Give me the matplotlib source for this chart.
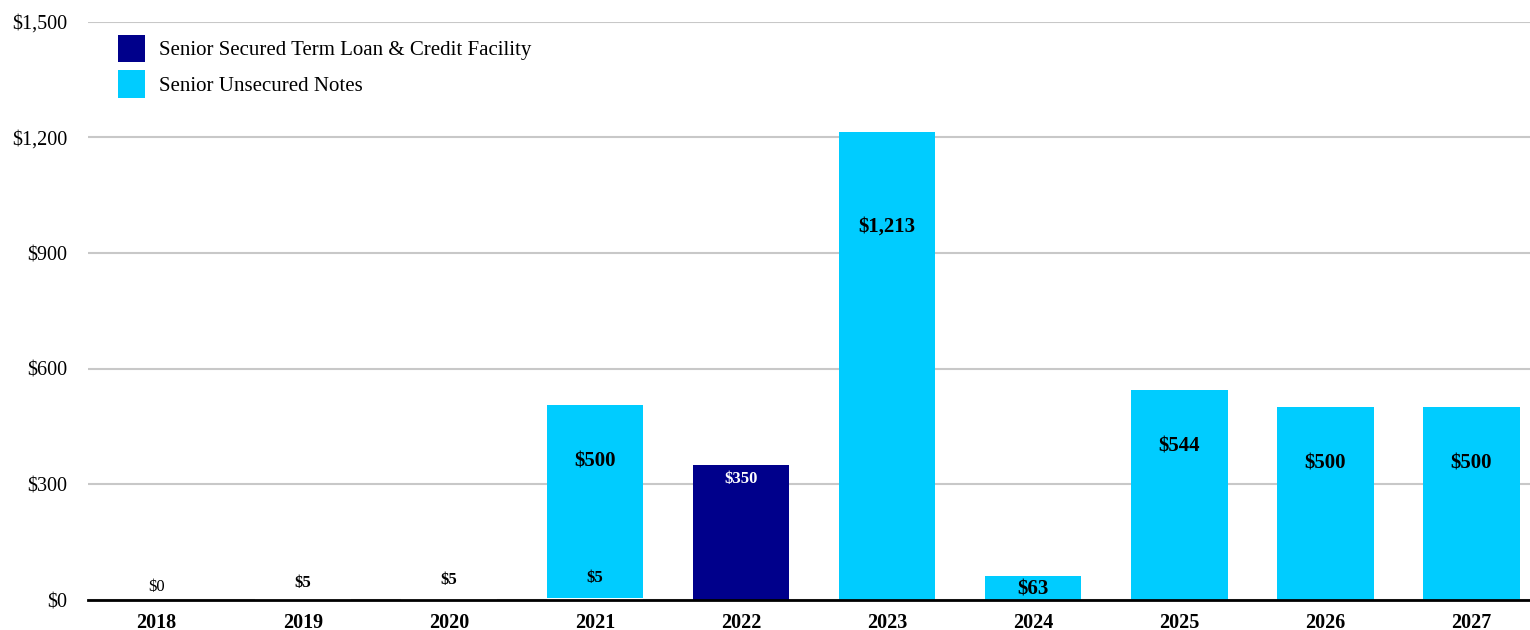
import matplotlib
matplotlib.use("Agg")
import matplotlib.pyplot as plt
import numpy as np

years = ["2018", "2019", "2020", "2021", "2022", "2023", "2024", "2025", "2026", "2027"]
secured = [0, 5, 5, 5, 350, 0, 0, 0, 0, 0]
unsecured = [0, 0, 0, 500, 0, 1213, 63, 544, 500, 500]

navy = "#00008B"
cyan = "#00CCFF"

plt.rcParams["font.family"] = ["Liberation Serif", "DejaVu Serif"]

fig = plt.figure(figsize=(15.3, 6.3), dpi=100)
ax = fig.add_axes([0.0575, 0.0476, 0.9425, 0.918])

x = np.arange(len(years))
w = 0.66
# tiny secured amounts are not visible in the original
sec_colors = [navy if v >= 50 else "white" for v in secured]
ax.bar(x, secured, w, color=sec_colors, zorder=2)
ax.bar(x, unsecured, w, bottom=secured, color=cyan, label="Senior Unsecured Notes", zorder=2)
ax.bar([0], [0], w, color=navy, label="Senior Secured Term Loan & Credit Facility")

ax.set_ylim(0, 1500)
ax.set_xlim(-0.47, 9.4)
ax.set_yticks(np.arange(0, 1501, 300))
ax.set_yticklabels(["${:,}".format(v) for v in range(0, 1501, 300)], fontsize=14.5)
ax.set_xticks(x)
ax.set_xticklabels(years, fontsize=14.5, fontweight="bold")
ax.tick_params(axis="x", length=0, pad=9)
ax.tick_params(axis="y", length=0, pad=15)
ax.yaxis.grid(True, color="#c8c8c8", linewidth=1.5, zorder=0)
for s in ["top", "right", "left"]:
    ax.spines[s].set_visible(False)
ax.spines["bottom"].set_linewidth(2)
ax.spines["bottom"].set_zorder(3)

# labels
for i in range(len(years)):
    if unsecured[i] > 0:
        top = secured[i] + unsecured[i]
        drop = 94 if unsecured[i] > 1000 else (14 if unsecured[i] < 100 else 56)
        ax.annotate("${:,}".format(unsecured[i]), (x[i], top), xytext=(0, -drop),
                    textcoords="offset pixels", ha="center", va="center",
                    fontsize=15, fontweight="bold", color="black", zorder=4)
    if secured[i] >= 100:
        ax.annotate("${:,}".format(secured[i]), (x[i], secured[i]), xytext=(0, -14),
                    textcoords="offset pixels", ha="center", va="center",
                    fontsize=12, fontweight="bold", color="white", zorder=4)
    elif i < 4:
        wt = "normal" if secured[i] == 0 else "bold"
        ax.annotate("${:,}".format(secured[i]), (x[i], secured[i]), xytext=(0, 13 + 2.5 * i),
                    textcoords="offset pixels", ha="center", va="center",
                    fontsize=12, fontweight=wt, color="black", zorder=4)

h, l = ax.get_legend_handles_labels()
leg = ax.legend(h[::-1], l[::-1], loc="upper left", bbox_to_anchor=(0.0075, 1.01), frameon=False,
                fontsize=15, handlelength=1.3, handleheight=1.65, handletextpad=0.7,
                labelspacing=0.4)

fig.savefig("out.png", dpi=100)
